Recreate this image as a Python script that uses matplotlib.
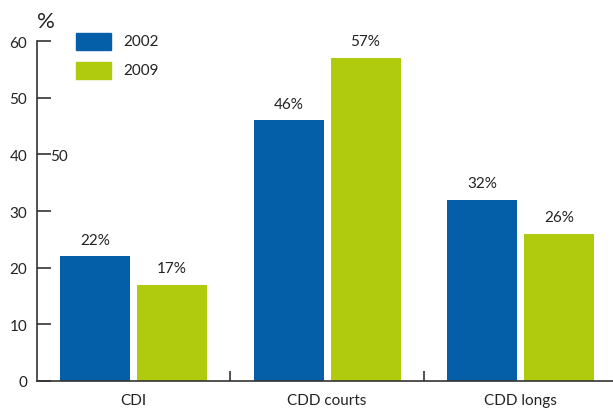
import matplotlib.pyplot as plt
import numpy as np

categories = ["CDI", "CDD courts", "CDD longs"]
years = ["2002", "2009"]
values_2002 = [22, 46, 32]
values_2009 = [17, 57, 26]
colors = ["#045ea8", "#b0ca0e"]

plt.rcParams["font.family"] = ["Lato", "DejaVu Sans"]
line_col = "#333333"

fig = plt.figure(figsize=(6.13, 4.10), dpi=100)
ax = fig.add_axes([37 / 613, 28 / 410, 1 - 37 / 613, 340 / 410])

x = np.arange(len(categories))
w = 0.362
off = 0.199
bars1 = ax.bar(x - off, values_2002, w, color=colors[0])
bars2 = ax.bar(x + off, values_2009, w, color=colors[1])

# valeurs au-dessus des barres
for bars, vals in ((bars1, values_2002), (bars2, values_2009)):
    for b, v in zip(bars, vals):
        ax.annotate(f"{v}%", (b.get_x() + b.get_width() / 2, v),
                    xytext=(0, 7), textcoords="offset points",
                    ha="center", va="bottom", fontsize=11, color="#222222")

ax.set_xlim(-0.499, 2.478)
ax.set_ylim(0, 60)
ax.set_yticks(range(0, 61, 10))
ax.tick_params(axis="y", direction="in", length=10, width=1.2, color=line_col,
               labelsize=11, pad=7, labelcolor="#222222")
ax.set_xticks(x)
ax.set_xticklabels(categories)
ax.tick_params(axis="x", length=0, labelsize=11, pad=9, labelcolor="#222222")
ax.set_xticks([0.5, 1.5], minor=True)
ax.tick_params(axis="x", which="minor", direction="in", length=7, width=1.2, color=line_col)

for s in ("top", "right"):
    ax.spines[s].set_visible(False)
for s in ("left", "bottom"):
    ax.spines[s].set_color(line_col)
    ax.spines[s].set_linewidth(1.2)

fig.text(37 / 613, 1 - 22 / 410, "%", fontsize=16, ha="left", va="center", color="#222222")

# légende dessinée à la main
for i, (yr, c) in enumerate(zip(years, colors)):
    yc = 42.5 + i * 29
    fig.patches.append(plt.Rectangle((76 / 613, 1 - (yc + 8.5) / 410), 35 / 613, 17 / 410,
                                     transform=fig.transFigure, color=c))
    fig.text(123 / 613, 1 - yc / 410, yr, fontsize=11, ha="left", va="center", color="#222222")

# étiquette parasite présente dans l'original
fig.text(50 / 613, 1 - 157 / 410, "50", fontsize=11, ha="left", va="center", color="#222222")

fig.savefig("out.png", dpi=100)
